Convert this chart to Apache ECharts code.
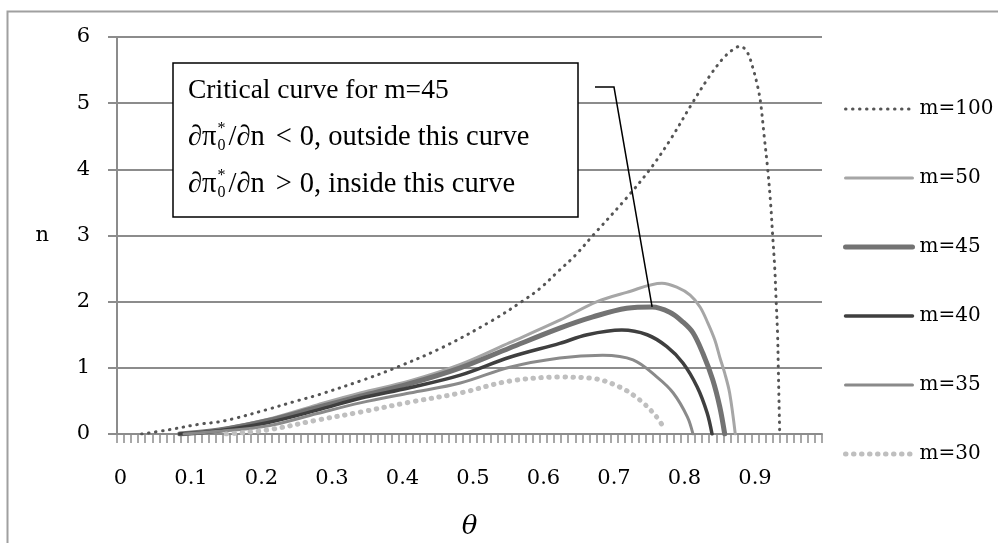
<!DOCTYPE html>
<html>
<head>
<meta charset="utf-8">
<script src="https://cdn.jsdelivr.net/npm/echarts@6/dist/echarts.min.js"></script>
<style>
html, body { margin: 0; padding: 0; background: #fff; }
#main { width: 998px; height: 543px; }
</style>
</head>
<body>
<div id="main"></div>
<script>
// values: theta (x) and n (y) for every m
var theta100 = [0.030, 0.066, 0.113, 0.137, 0.16, 0.208, 0.25, 0.28, 0.345, 0.39, 0.457, 0.528, 0.569, 0.595, 0.62, 0.645, 0.670, 0.718, 0.751, 0.78, 0.811, 0.835, 0.855, 0.870, 0.879, 0.889, 0.897, 0.904, 0.908, 0.913, 0.918, 0.922, 0.925, 0.928, 0.930, 0.932, 0.933, 0.934, 0.935];
var n100     = [0, 0.06, 0.15, 0.18, 0.23, 0.37, 0.50, 0.59, 0.82, 1.0, 1.31, 1.72, 2.0, 2.2, 2.45, 2.7, 3.0, 3.57, 4.0, 4.45, 5.0, 5.4, 5.68, 5.82, 5.86, 5.77, 5.53, 5.24, 5.0, 4.5, 4.0, 3.5, 3.0, 2.5, 2.0, 1.5, 1.0, 0.5, 0];

var theta50 = [0.084, 0.14, 0.208, 0.279, 0.34, 0.41, 0.482, 0.552, 0.623, 0.676, 0.718, 0.768, 0.789, 0.808, 0.822, 0.833, 0.843, 0.85, 0.857, 0.864, 0.872];
var n50     = [0, 0.07, 0.22, 0.44, 0.62, 0.80, 1.05, 1.38, 1.72, 2.0, 2.14, 2.28, 2.22, 2.10, 1.92, 1.68, 1.42, 1.16, 0.92, 0.62, 0];

var theta45 = [0.084, 0.14, 0.208, 0.279, 0.34, 0.41, 0.482, 0.552, 0.623, 0.670, 0.718, 0.754, 0.779, 0.798, 0.812, 0.826, 0.840, 0.850, 0.857];
var n45     = [0, 0.06, 0.20, 0.40, 0.57, 0.76, 1.0, 1.30, 1.60, 1.77, 1.90, 1.92, 1.84, 1.69, 1.53, 1.22, 0.82, 0.41, 0];

var theta40 = [0.084, 0.14, 0.208, 0.279, 0.34, 0.41, 0.482, 0.552, 0.623, 0.662, 0.711, 0.747, 0.775, 0.798, 0.818, 0.832, 0.839];
var n40     = [0, 0.05, 0.17, 0.36, 0.54, 0.70, 0.89, 1.16, 1.37, 1.50, 1.57, 1.50, 1.32, 1.07, 0.71, 0.32, 0];

var theta35 = [0.09, 0.14, 0.208, 0.279, 0.34, 0.41, 0.482, 0.552, 0.623, 0.684, 0.727, 0.761, 0.784, 0.804, 0.812];
var n35     = [0, 0.04, 0.12, 0.31, 0.47, 0.62, 0.77, 1.01, 1.15, 1.19, 1.12, 0.86, 0.62, 0.26, 0];

var theta30 = [0.15, 0.208, 0.279, 0.34, 0.41, 0.482, 0.552, 0.623, 0.670, 0.708, 0.737, 0.758, 0.768];
var n30     = [0, 0.06, 0.21, 0.33, 0.48, 0.62, 0.80, 0.86, 0.84, 0.71, 0.51, 0.29, 0.14];

// peak of the m=45 curve, where the callout points
var criticalPoint = [0.754, 1.92];

// x axis categories 0.00 .. 0.99, a label every tenth
var xCats = [];
for (var i = 0; i < 100; i++) {
	xCats.push((i / 100).toFixed(2));
}

var serif = 'DejaVu Serif';
var boxFont = 'Liberation Serif';
var gridColor = '#8c8c8c';

function pairs(xs, ys) {
	var out = [];
	for (var k = 0; k < xs.length; k++) {
		out.push([xs[k], ys[k]]);
	}
	return out;
}

function curve(name, xs, ys, color, width, dotted, gap) {
	return {
		name: name,
		type: 'line',
		xAxisIndex: 1,
		yAxisIndex: 0,
		data: pairs(xs, ys),
		symbol: 'none',
		smooth: 0.35,
		// transparent so the legend shows only the line
		itemStyle: { color: 'rgba(0,0,0,0)', borderWidth: 0 },
		lineStyle: {
			color: color,
			width: width,
			type: dotted ? [0.5, gap] : 'solid',
			cap: 'round'
		}
	};
}

var myChart = echarts.init(document.getElementById('main'));

var option = {
	animation: false,
	grid: { left: 117, right: 176, top: 37, bottom: 109, outerBoundsMode: 'none', containLabel: false },
	legend: {
		orient: 'vertical',
		left: 843,
		top: 99,
		padding: 0,
		itemWidth: 67,
		itemHeight: 14,
		itemGap: 49,
		lineStyle: { width: 'inherit', type: 'inherit', cap: 'round' },
		textStyle: { fontFamily: serif, fontSize: 20, color: '#000', padding: [0, 0, 0, 2] },
		data: ['m=100', 'm=50', 'm=45', 'm=40', 'm=35', 'm=30']
	},
	xAxis: [{
		type: 'category',
		data: xCats,
		boundaryGap: true,
		name: 'θ',
		nameLocation: 'middle',
		nameGap: 80,
		nameTextStyle: { fontFamily: serif, fontSize: 26, fontStyle: 'italic', color: '#000' },
		axisLine: { show: true, onZero: false, lineStyle: { color: gridColor, width: 2 } },
		axisTick: { show: true, interval: 0, length: 9, lineStyle: { color: gridColor, width: 1.5 } },
		axisLabel: {
			interval: 9,
			margin: 34,
			fontFamily: serif,
			fontSize: 21,
			color: '#000',
			formatter: function (v) { return String(parseFloat(v)); }
		},
		splitLine: { show: false }
	}, {
		type: 'value',
		min: -0.005,
		max: 0.995,
		show: false,
		splitLine: { show: false }
	}],
	yAxis: {
		type: 'value',
		min: 0,
		max: 6,
		interval: 1,
		name: 'n',
		nameLocation: 'middle',
		nameRotate: 0,
		nameGap: 68,
		nameTextStyle: { fontFamily: serif, fontSize: 21, color: '#000' },
		axisLine: { show: true, onZero: false, lineStyle: { color: gridColor, width: 2 } },
		axisTick: { show: true, length: 9, lineStyle: { color: gridColor, width: 2 } },
		axisLabel: { margin: 27, fontFamily: serif, fontSize: 21, color: '#000' },
		splitLine: { show: true, lineStyle: { color: gridColor, width: 2 } }
	},
	series: [
		curve('m=100', theta100, n100, '#555555', 3, true, 6.5),
		curve('m=50', theta50, n50, '#a6a6a6', 3, false),
		curve('m=45', theta45, n45, '#737373', 5, false),
		curve('m=40', theta40, n40, '#3f3f3f', 3.5, false),
		curve('m=35', theta35, n35, '#8a8a8a', 3, false),
		curve('m=30', theta30, n30, '#bfbfbf', 5, true, 7.5)
	]
};
myChart.setOption(option);

// callout box
var ctx = document.createElement('canvas').getContext('2d');
function textWidth(s, size) {
	ctx.font = size + 'px "' + boxFont + '"';
	return ctx.measureText(s).width;
}

var boxX = 188, fs = 27.5, fs2 = 28.5, ss = 16;
function txt(x, y, s, size) {
	return {
		type: 'text', x: x, y: y, z: 101,
		style: { text: s, fontFamily: boxFont, fontSize: size, fill: '#000', verticalAlign: 'middle' }
	};
}
// ∂π with stacked * and 0, then the relation with math spacing
function mathLine(y, rel, rest) {
	var out = [];
	var x = boxX;
	out.push(txt(x, y, '∂π', fs2));
	x += textWidth('∂π', fs2) + 1;
	out.push(txt(x, y - 9, '*', ss));
	out.push(txt(x, y + 8, '0', ss));
	x += textWidth('0', ss) + 3;
	out.push(txt(x, y, '/∂n', fs2));
	x += textWidth('/∂n', fs2) + 11;
	out.push(txt(x, y, rel, fs2));
	x += textWidth(rel, fs2) + 8;
	out.push(txt(x, y, rest, fs2));
	return out;
}

var peak = myChart.convertToPixel({ seriesIndex: 2 }, criticalPoint);

var els = [{
	type: 'rect',
	silent: true,
	z: -10,
	shape: { x: 7.5, y: 11.5, width: 1200, height: 800 },
	style: { fill: 'none', stroke: '#a0a0a0', lineWidth: 2 }
}, {
	type: 'rect',
	z: 100,
	shape: { x: 173, y: 63, width: 405, height: 154 },
	style: { fill: '#fff', stroke: '#000', lineWidth: 1.5 }
}, {
	type: 'polyline',
	z: 100,
	shape: { points: [[595, 87], [614, 87], peak] },
	style: { fill: 'none', stroke: '#000', lineWidth: 1.5 }
}, txt(boxX, 91, 'Critical curve for m=45', fs)];

els = els.concat(mathLine(138, '<', '0, outside this curve'));
els = els.concat(mathLine(185, '>', '0, inside this curve'));

myChart.setOption({ graphic: { elements: els } });
</script>
</body>
</html>
